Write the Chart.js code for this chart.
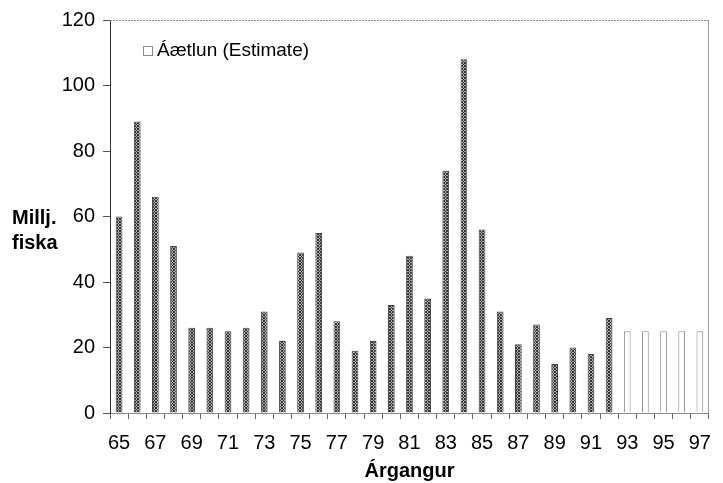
<!DOCTYPE html>
<html>
<head>
<meta charset="utf-8">
<script src="https://cdn.jsdelivr.net/npm/chart.js@4"></script>
<style>
  html, body { margin: 0; padding: 0; background: #fff; }
  #wrap { width: 723px; height: 483px; }
</style>
</head>
<body>
<div id="wrap"><canvas id="c" width="723" height="483"></canvas></div>
<script>
// ── data ──────────────────────────────────────────────────────────────────────
const years = ['65','66','67','68','69','70','71','72','73','74','75','76','77','78','79','80',
               '81','82','83','84','85','86','87','88','89','90','91','92','93','94','95','96','97'];
const measured = [60, 89, 66, 51, 26, 26, 25, 26, 31, 22, 49, 55, 28, 19, 22, 33,
                  48, 35, 74, 108, 56, 31, 21, 27, 15, 20, 18, 29, null, null, null, null, null];
const estimate = [null, null, null, null, null, null, null, null, null, null, null, null, null, null, null, null,
                  null, null, null, null, null, null, null, null, null, null, null, null, 25, 25, 25, 25, 25];
const yTicks = [0, 20, 40, 60, 80, 100, 120];

const FONT = "'Liberation Sans', Arial, sans-serif";

// hatched fill like the scanned bars
function hatch() {
    const p = document.createElement('canvas');
    p.width = 3; p.height = 3;
    const g = p.getContext('2d');
    g.fillStyle = '#a8a8a8';
    g.fillRect(0, 0, 3, 3);
    g.fillStyle = '#383838';
    for (let i = 0; i < 3; i++) {
        g.fillRect(i, i, 1, 1);
        g.fillRect(2 - i, i, 1, 1);
    }
    return g.createPattern(p, 'repeat');
}

// ── frame + y title + legend ──────────────────────────────────────────────────
const decor = {
    id: 'decor',
    beforeDatasetsDraw(chart) {
        const { ctx, chartArea: a } = chart;
        ctx.save();
        ctx.strokeStyle = '#8a8a8a';
        ctx.lineWidth = 1;
        ctx.setLineDash([2, 1]);
        ctx.beginPath();
        ctx.moveTo(a.left, a.top + 0.5);
        ctx.lineTo(a.right, a.top + 0.5);
        ctx.stroke();
        ctx.setLineDash([]);
        ctx.strokeStyle = '#9a9a9a';
        ctx.beginPath();
        ctx.moveTo(a.right - 0.5, a.top);
        ctx.lineTo(a.right - 0.5, a.bottom);
        ctx.stroke();
        ctx.restore();
    },
    afterDraw(chart) {
        const { ctx, chartArea: a } = chart;
        ctx.save();
        // y axis title, horizontal, two lines
        ctx.fillStyle = '#000';
        ctx.font = 'bold 20px ' + FONT;
        ctx.textAlign = 'left';
        ctx.textBaseline = 'middle';
        ctx.fillText('Millj.', 12, 218);
        ctx.fillText('fiska', 12, 243);
        // legend: estimate series only
        const ds = chart.data.datasets[1];
        const bx = a.left + 33, by = 46;
        ctx.fillStyle = ds.backgroundColor;
        ctx.fillRect(bx, by, 9, 9);
        ctx.strokeStyle = ds.borderColor;
        ctx.lineWidth = 1;
        ctx.strokeRect(bx + 0.5, by + 0.5, 9, 9);
        ctx.fillStyle = '#000';
        ctx.font = '19px ' + FONT;
        ctx.fillText(ds.label, bx + 14, by + 5);
        ctx.restore();
    }
};

new Chart(document.getElementById('c'), {
    type: 'bar',
    data: {
        labels: years,
        datasets: [
            {
                label: 'Mælt',
                data: measured,
                backgroundColor: hatch(),
                borderColor: '#444',
                borderWidth: 1
            },
            {
                label: 'Áætlun (Estimate)',
                data: estimate,
                backgroundColor: '#ffffff',
                borderColor: '#8a8a8a',
                borderWidth: 1
            }
        ]
    },
    options: {
        responsive: false,
        animation: false,
        events: [],
        layout: { padding: { top: 20, right: 2, left: 0, bottom: 0 } },
        datasets: { bar: { grouped: false, categoryPercentage: 1, barPercentage: 0.37 } },
        plugins: { legend: { display: false }, tooltip: { enabled: false } },
        scales: {
            x: {
                offset: true,
                afterFit: s => { s.height = 70; },
                grid: { offset: true, drawOnChartArea: false, drawTicks: true, tickLength: 6, color: '#666' },
                border: { color: '#8a8a8a', width: 1 },
                ticks: {
                    autoSkip: false,
                    maxRotation: 0,
                    padding: 12,
                    color: '#000',
                    font: { family: FONT, size: 20 },
                    callback: (v, i) => (i % 2 === 0 ? years[i] : '')
                },
                title: {
                    display: true,
                    text: 'Árgangur',
                    color: '#000',
                    font: { family: FONT, size: 20, weight: 'bold' },
                    padding: { top: 0, bottom: 0 }
                }
            },
            y: {
                min: yTicks[0],
                max: yTicks[yTicks.length - 1],
                afterFit: s => { s.width = 110; },
                afterBuildTicks: s => { s.ticks = yTicks.map(v => ({ value: v })); },
                grid: { drawOnChartArea: false, drawTicks: true, tickLength: 7, color: '#555' },
                border: { color: '#333', width: 1 },
                ticks: {
                    padding: 8,
                    color: '#000',
                    font: { family: FONT, size: 20 }
                }
            }
        }
    },
    plugins: [decor]
});
</script>
</body>
</html>
